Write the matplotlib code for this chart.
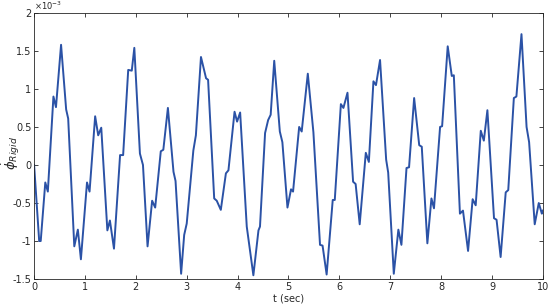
import numpy as np
from matplotlib import pyplot as plt

# values (t in sec, phi_dot in units of 1e-3)
t = [0.00, 0.10, 0.13, 0.22, 0.27, 0.38, 0.43, 0.53, 0.63, 0.67, 0.79, 0.86, 0.92,
     1.04, 1.09, 1.20, 1.26, 1.32, 1.44, 1.49, 1.57, 1.69, 1.75, 1.85, 1.92, 1.97,
     2.08, 2.14, 2.23, 2.32, 2.38, 2.49, 2.54, 2.63, 2.74, 2.78, 2.89, 2.95, 3.00,
     3.13, 3.18, 3.28, 3.38, 3.42, 3.54, 3.59, 3.67, 3.77, 3.82, 3.94, 3.99, 4.05,
     4.18, 4.31, 4.41, 4.44, 4.54, 4.60, 4.65, 4.72, 4.83, 4.88, 4.98, 5.05, 5.09,
     5.21, 5.26, 5.38, 5.49, 5.62, 5.67, 5.75, 5.87, 5.91, 6.03, 6.08, 6.16, 6.27,
     6.32, 6.40, 6.52, 6.58, 6.67, 6.72, 6.80, 6.92, 6.96, 7.07, 7.16, 7.22, 7.32,
     7.37, 7.47, 7.57, 7.62, 7.73, 7.81, 7.86, 7.98, 8.02, 8.13, 8.21, 8.25, 8.37,
     8.43, 8.53, 8.62, 8.68, 8.78, 8.84, 8.91, 9.04, 9.09, 9.17, 9.27, 9.32, 9.43,
     9.48, 9.58, 9.68, 9.73, 9.84, 9.92, 9.98, 10.00]
phi = [0.00, -1.00, -1.00, -0.23, -0.35, 0.90, 0.76, 1.58, 0.73, 0.61, -1.07, -0.85, -1.24,
       -0.23, -0.35, 0.64, 0.39, 0.49, -0.86, -0.73, -1.10, 0.13, 0.13, 1.25, 1.24, 1.54,
       0.15, 0.00, -1.07, -0.47, -0.56, 0.18, 0.20, 0.75, -0.09, -0.21, -1.43, -0.92, -0.77,
       0.19, 0.39, 1.42, 1.14, 1.12, -0.44, -0.47, -0.59, -0.11, -0.07, 0.70, 0.57, 0.69,
       -0.81, -1.45, -0.86, -0.81, 0.42, 0.59, 0.66, 1.37, 0.44, 0.30, -0.56, -0.32, -0.35,
       0.50, 0.44, 1.20, 0.43, -1.05, -1.06, -1.44, -0.46, -0.46, 0.80, 0.75, 0.95, -0.22,
       -0.25, -0.78, 0.16, 0.04, 1.10, 1.05, 1.38, 0.07, -0.10, -1.43, -0.85, -1.05, -0.04,
       -0.03, 0.88, 0.26, 0.24, -1.03, -0.44, -0.57, 0.50, 0.51, 1.56, 1.17, 1.18, -0.64,
       -0.60, -1.13, -0.45, -0.53, 0.45, 0.32, 0.72, -0.70, -0.72, -1.21, -0.36, -0.33, 0.88,
       0.90, 1.72, 0.50, 0.30, -0.78, -0.50, -0.64, -0.60]
phi = np.array(phi) * 1e-3

fig = plt.figure(figsize=(5.5, 3.06), dpi=100)
ax = fig.add_axes([0.062, 0.088, 0.925, 0.870])
ax.plot(t, phi, color='#2b52a6', linewidth=1.4, solid_joinstyle='round')

ax.set_xlim(0, 10)
ax.set_ylim(-1.5e-3, 2e-3)
ax.set_xticks(range(0, 11))
ax.set_yticks(np.arange(-1.5e-3, 2.01e-3, 0.5e-3))
ax.set_yticklabels(['-1.5', '-1', '-0.5', '0', '0.5', '1', '1.5', '2'])
ax.tick_params(direction='in', top=True, right=True, labelsize=7, colors='#262626',
               length=3, width=0.6, pad=2)
for s in ax.spines.values():
    s.set_linewidth(0.6)
    s.set_color('#262626')

ax.set_xlabel("t (sec)", fontsize=7, color='#262626', labelpad=1)
# y label placed by hand so it stays inside the figure
fig.text(0.0, 0.5, r"$\dot{\phi}_{Rigid}$", rotation=90, fontsize=9.5,
         color='#262626', ha='left', va='center')
ax.text(0.0, 1.005, r"$\times10^{-3}$", transform=ax.transAxes, fontsize=6,
        color='#262626', va='bottom', ha='left')

plt.savefig('out.png', dpi=100)
